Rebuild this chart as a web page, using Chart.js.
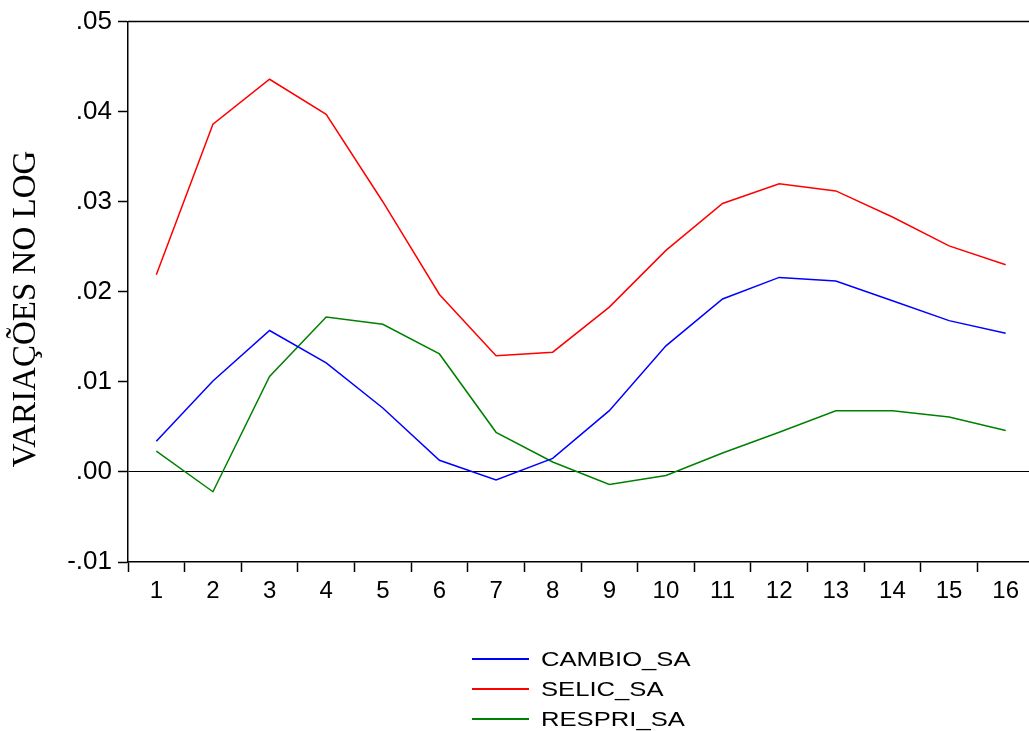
<!DOCTYPE html>
<html>
<head>
<meta charset="utf-8">
<script src="https://cdn.jsdelivr.net/npm/chart.js@4"></script>
<style>
  html, body { margin: 0; padding: 0; background: #fff; overflow: hidden; }
  #wrap { position: absolute; left: 0; top: 0; width: 1045px; height: 731px; }
  #legend { position: absolute; left: 472px; top: 644px; font-family: "Liberation Sans", Arial, sans-serif; font-size: 21px; color: #000; }
  #legend .row { height: 30px; display: flex; align-items: center; }
  #legend .ln { width: 57px; height: 2px; margin-right: 12px; }
  #legend .tx { display: inline-block; transform: scaleX(1.22); transform-origin: left center; }
</style>
</head>
<body>
<div id="wrap"><canvas id="chart"></canvas></div>
<div id="legend"></div>
<script>
// horizontes 1..16
const periodos = ["1","2","3","4","5","6","7","8","9","10","11","12","13","14","15","16"];
const cambio = [0.0034, 0.0101, 0.0157, 0.0121, 0.0071, 0.0013, -0.0009, 0.0015, 0.0068, 0.0140, 0.0192, 0.0216, 0.0212, 0.0190, 0.0168, 0.0154];
const selic  = [0.0219, 0.0386, 0.0436, 0.0397, 0.0300, 0.0197, 0.0129, 0.0133, 0.0183, 0.0246, 0.0298, 0.0320, 0.0312, 0.0283, 0.0251, 0.0230];
const respri = [0.0023, -0.0022, 0.0106, 0.0172, 0.0164, 0.0131, 0.0044, 0.0011, -0.0014, -0.0004, 0.0021, 0.0044, 0.0068, 0.0068, 0.0061, 0.0046];
const nomes = ["CAMBIO_SA", "SELIC_SA", "RESPRI_SA"];
const cores = ["#0000ff", "#ff0000", "#008000"];
const tituloY = "VARIAÇÕES NO LOG";

const fmt = v => v.toFixed(2).replace("0.", ".");

// borda superior + título do eixo Y (desenhado à mão para posicionar igual ao original)
const extras = {
    id: 'extras',
    afterDraw(chart) {
        const { ctx, chartArea: a } = chart;
        ctx.save();
        ctx.strokeStyle = '#000'; ctx.lineWidth = 1.5;
        ctx.beginPath(); ctx.moveTo(a.left, a.top); ctx.lineTo(a.right, a.top); ctx.stroke();
        ctx.translate(35, 309); ctx.rotate(-Math.PI / 2);
        ctx.fillStyle = '#000';
        ctx.font = '33px "Liberation Serif"';
        ctx.textAlign = 'center'; ctx.textBaseline = 'alphabetic';
        ctx.fillText(tituloY, 0, 0);
        ctx.restore();
    }
};

const series = [cambio, selic, respri];
new Chart(document.getElementById('chart'), {
    type: 'line',
    data: {
        labels: periodos,
        datasets: series.map((d, i) => ({
            label: nomes[i], data: d, borderColor: cores[i], borderWidth: 1.5,
            pointRadius: 0, tension: 0, fill: false
        }))
    },
    options: {
        responsive: true, maintainAspectRatio: false, animation: false,
        layout: { padding: { top: 17, right: 11, left: 0, bottom: 0 } },
        plugins: { legend: { display: false }, tooltip: { enabled: false } },
        scales: {
            x: {
                offset: true,
                grid: { offset: true, drawOnChartArea: false, tickColor: '#000', tickLength: 10, tickWidth: 1.5 },
                border: { display: true, color: '#000', width: 1.5 },
                ticks: { color: '#000', padding: 5, font: { family: 'Liberation Sans', size: 24 }, maxRotation: 0, autoSkip: false },
                afterFit: s => { s.height = 169; }
            },
            y: {
                min: -0.01, max: 0.05,
                grid: {
                    color: c => Math.abs(c.tick.value) < 1e-9 ? '#000' : 'transparent',
                    lineWidth: 1, tickColor: '#000', tickLength: 10, tickWidth: 1.5
                },
                border: { display: true, color: '#000', width: 1.5 },
                ticks: { stepSize: 0.01, color: '#000', padding: 6, font: { family: 'Liberation Sans', size: 26 }, callback: v => fmt(v) },
                afterFit: s => { s.width = 128; }
            }
        }
    },
    plugins: [extras]
});

document.getElementById('legend').innerHTML = nomes.map((n, i) =>
    `<div class="row"><span class="ln" style="background:${cores[i]}"></span><span class="tx">${n}</span></div>`).join('');
</script>
</body>
</html>
